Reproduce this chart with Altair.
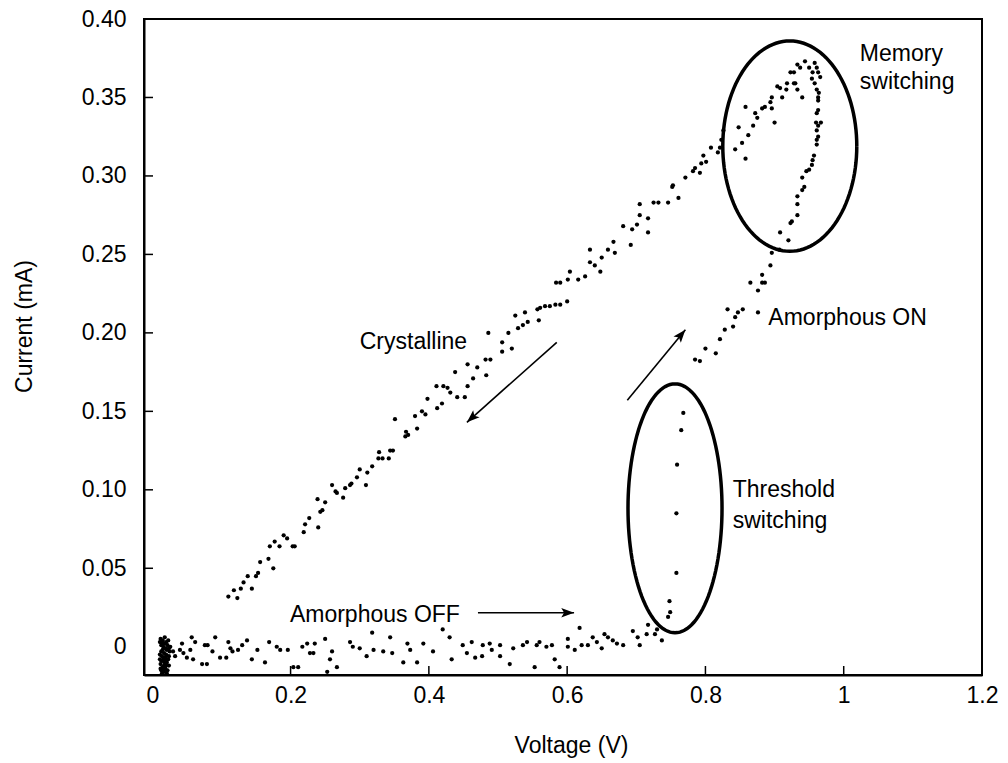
import numpy as np
import pandas as pd
import altair as alt

# ---- measured I-V sweep (voltage in V, current in mA) ----
# dense cluster at the start of the sweep
blob = [
    (0.012, 0.005), (0.015, 0.004), (0.018, 0.006), (0.020, 0.003), (0.022, 0.001),
    (0.016, 0.000), (0.019, -0.001), (0.013, -0.003), (0.021, -0.002), (0.017, -0.004),
    (0.014, -0.006), (0.020, -0.006), (0.023, -0.008), (0.016, -0.009), (0.018, -0.010),
    (0.012, -0.011), (0.020, -0.012), (0.015, -0.013), (0.019, -0.014), (0.022, -0.015),
    (0.017, -0.016), (0.014, -0.017), (0.018, 0.002), (0.020, -0.005), (0.016, -0.007),
    (0.025, -0.003), (0.013, 0.001), (0.011, 0.003), (0.014, 0.002), (0.023, 0.004),
    (0.024, -0.001), (0.011, -0.008), (0.013, -0.009), (0.021, -0.010), (0.024, -0.012),
    (0.012, -0.014), (0.017, -0.012), (0.013, -0.015), (0.021, -0.017), (0.024, -0.006),
    (0.011, -0.005), (0.019, -0.008), (0.015, -0.002), (0.026, 0.000), (0.016, -0.015),
]

# amorphous OFF state, low current
off_state = [
    (0.030, -0.003), (0.033, -0.006), (0.040, -0.002), (0.043, 0.002), (0.045, -0.004),
    (0.050, -0.007), (0.055, -0.002), (0.057, 0.006), (0.059, -0.008), (0.062, 0.003),
    (0.072, -0.011), (0.079, -0.011), (0.076, 0.001), (0.080, 0.001), (0.091, 0.006),
    (0.087, -0.003), (0.098, -0.007), (0.107, -0.007), (0.110, 0.003), (0.113, -0.001),
    (0.116, -0.003), (0.124, -0.002), (0.130, 0.001), (0.137, 0.004), (0.144, -0.008),
    (0.152, -0.002), (0.163, -0.010), (0.169, 0.003), (0.180, 0.000), (0.185, -0.002),
    (0.196, -0.002), (0.204, -0.013), (0.211, -0.013), (0.217, 0.000), (0.224, 0.002),
    (0.228, -0.004), (0.235, 0.002), (0.233, -0.004), (0.250, 0.005), (0.253, -0.016),
    (0.257, -0.008), (0.260, -0.003), (0.267, -0.013), (0.286, 0.003), (0.290, 0.000),
    (0.300, -0.001), (0.310, -0.006), (0.318, 0.009), (0.320, -0.002), (0.334, -0.003),
    (0.344, 0.006), (0.347, -0.004), (0.363, -0.010), (0.369, 0.002), (0.373, -0.002),
    (0.383, -0.010), (0.392, 0.002), (0.406, -0.003), (0.420, 0.011), (0.430, 0.006),
    (0.433, -0.008), (0.449, 0.001), (0.455, -0.004), (0.462, 0.003), (0.467, -0.007),
    (0.477, -0.006), (0.478, 0.001), (0.488, 0.002), (0.491, -0.002), (0.503, -0.006),
    (0.503, 0.001), (0.517, -0.011), (0.522, -0.001), (0.536, 0.001), (0.542, 0.003),
    (0.553, -0.013), (0.556, 0.001), (0.560, 0.003), (0.570, 0.000), (0.578, 0.001),
    (0.582, -0.008), (0.589, -0.013), (0.601, 0.005), (0.601, 0.000), (0.611, -0.002),
    (0.618, 0.012), (0.621, 0.001), (0.630, 0.001), (0.637, 0.006), (0.643, 0.003),
    (0.650, -0.001), (0.654, 0.008), (0.659, 0.006), (0.666, 0.004), (0.672, 0.002),
    (0.681, 0.001), (0.695, 0.010), (0.702, 0.006), (0.705, 0.001), (0.715, 0.008),
    (0.717, 0.014), (0.727, 0.008), (0.730, 0.011), (0.737, 0.004),
]

# threshold switching jump
threshold = [
    (0.746, 0.019), (0.749, 0.022), (0.748, 0.029), (0.758, 0.047), (0.758, 0.085),
    (0.759, 0.116), (0.765, 0.138), (0.768, 0.149),
]

# amorphous ON branch up to the memory-switching point
on_state = [
    (0.785, 0.183), (0.792, 0.182), (0.800, 0.190), (0.815, 0.187), (0.821, 0.196),
    (0.828, 0.202), (0.840, 0.204), (0.843, 0.210), (0.847, 0.213), (0.854, 0.215),
    (0.832, 0.215), (0.876, 0.213), (0.876, 0.227), (0.865, 0.232), (0.882, 0.232),
    (0.882, 0.237), (0.886, 0.232), (0.894, 0.243), (0.896, 0.251), (0.907, 0.253),
    (0.908, 0.264), (0.920, 0.259), (0.923, 0.270), (0.925, 0.271), (0.933, 0.275),
    (0.933, 0.282), (0.933, 0.287), (0.940, 0.291), (0.943, 0.293), (0.940, 0.299),
    (0.946, 0.303), (0.950, 0.304), (0.954, 0.307), (0.955, 0.310), (0.957, 0.313),
    (0.961, 0.320), (0.961, 0.323), (0.963, 0.325), (0.961, 0.329), (0.963, 0.332),
    (0.967, 0.334), (0.960, 0.334), (0.961, 0.340), (0.963, 0.342), (0.963, 0.348),
    (0.963, 0.350), (0.961, 0.355), (0.964, 0.353), (0.958, 0.359), (0.954, 0.362),
    (0.955, 0.366), (0.963, 0.366), (0.961, 0.369), (0.958, 0.372), (0.950, 0.369),
    (0.966, 0.363),
]

# crystalline branch, sweeping back down
crystalline = [
    (0.944, 0.373), (0.937, 0.369), (0.933, 0.371), (0.930, 0.359), (0.928, 0.366),
    (0.923, 0.366), (0.940, 0.350), (0.933, 0.355), (0.928, 0.359), (0.918, 0.359),
    (0.917, 0.355), (0.908, 0.356), (0.911, 0.350), (0.904, 0.357), (0.896, 0.350),
    (0.894, 0.347), (0.886, 0.344), (0.882, 0.343), (0.896, 0.343), (0.872, 0.340),
    (0.875, 0.337), (0.858, 0.344), (0.900, 0.334), (0.869, 0.332), (0.862, 0.326),
    (0.848, 0.331), (0.853, 0.321), (0.843, 0.317), (0.858, 0.311), (0.826, 0.329),
    (0.823, 0.323), (0.821, 0.318), (0.818, 0.315), (0.808, 0.318), (0.801, 0.309),
    (0.797, 0.313), (0.794, 0.308), (0.792, 0.302), (0.785, 0.305), (0.782, 0.303),
    (0.771, 0.299), (0.753, 0.294), (0.752, 0.293), (0.761, 0.286), (0.746, 0.283),
    (0.732, 0.283), (0.725, 0.283), (0.705, 0.282), (0.705, 0.275), (0.717, 0.273),
    (0.717, 0.264), (0.701, 0.269), (0.694, 0.266), (0.681, 0.268), (0.692, 0.256),
    (0.667, 0.258), (0.659, 0.253), (0.669, 0.251), (0.650, 0.248), (0.633, 0.253),
    (0.633, 0.245), (0.640, 0.243), (0.648, 0.239), (0.626, 0.236), (0.616, 0.234),
    (0.604, 0.239), (0.601, 0.234), (0.590, 0.232), (0.584, 0.232), (0.600, 0.220),
    (0.590, 0.218), (0.583, 0.218), (0.575, 0.217), (0.568, 0.217), (0.561, 0.216),
    (0.557, 0.215), (0.539, 0.213), (0.559, 0.208), (0.543, 0.207), (0.536, 0.205),
    (0.529, 0.203), (0.525, 0.211), (0.515, 0.200), (0.506, 0.188), (0.506, 0.194),
    (0.486, 0.200), (0.489, 0.183), (0.482, 0.183), (0.520, 0.190), (0.456, 0.180),
    (0.470, 0.178), (0.483, 0.173), (0.438, 0.175), (0.464, 0.171), (0.456, 0.166),
    (0.411, 0.166), (0.421, 0.166), (0.427, 0.165), (0.431, 0.162), (0.441, 0.159),
    (0.452, 0.159), (0.398, 0.158), (0.419, 0.155), (0.412, 0.152), (0.390, 0.150),
    (0.395, 0.148), (0.380, 0.147), (0.351, 0.145), (0.383, 0.139), (0.367, 0.137),
    (0.370, 0.135), (0.366, 0.134), (0.348, 0.125), (0.344, 0.125), (0.328, 0.124),
    (0.333, 0.120), (0.327, 0.120), (0.342, 0.120), (0.318, 0.115), (0.300, 0.113),
    (0.311, 0.111), (0.296, 0.108), (0.288, 0.104), (0.286, 0.103), (0.309, 0.103),
    (0.279, 0.101), (0.260, 0.103), (0.265, 0.099), (0.267, 0.098), (0.276, 0.095),
    (0.250, 0.092), (0.239, 0.094), (0.246, 0.087), (0.243, 0.086), (0.227, 0.082),
    (0.221, 0.078), (0.219, 0.073), (0.240, 0.076), (0.190, 0.071), (0.195, 0.069),
    (0.203, 0.064), (0.206, 0.064), (0.177, 0.067), (0.184, 0.064), (0.170, 0.064),
    (0.168, 0.056), (0.156, 0.054), (0.175, 0.050), (0.153, 0.047), (0.150, 0.045),
    (0.138, 0.045), (0.132, 0.041), (0.128, 0.037), (0.118, 0.036), (0.144, 0.037),
    (0.110, 0.032), (0.123, 0.031),
]

# axis ticks
x_ticks = [0, 0.2, 0.4, 0.6, 0.8, 1.0, 1.2]
y_ticks = [0, 0.05, 0.10, 0.15, 0.20, 0.25, 0.30, 0.35, 0.40]

# annotation labels: text, voltage, current
labels = [
    ("Crystalline", 0.300, 0.194),
    ("Amorphous ON", 0.891, 0.2096),
    ("Threshold", 0.8395, 0.1000),
    ("switching", 0.8395, 0.0803),
    ("Amorphous OFF", 0.199, 0.0204),
    ("Memory", 1.0233, 0.378),
    ("switching", 1.0233, 0.360),
]

# arrows: name, start (V, mA), tip (V, mA), heading in degrees
arrows = [
    ("crystalline", 0.585, 0.194, 0.455, 0.143, 228),
    ("on", 0.687, 0.157, 0.771, 0.202, 40),
    ("off", 0.471, 0.0217, 0.610, 0.0217, 90),
]

# ellipses around the switching regions: name, centre (V, mA), half-widths (V, mA)
ellipses = [
    ("memory", 0.922, 0.319, 0.0969, 0.0670),
    ("threshold", 0.756, 0.0882, 0.068, 0.0793),
]

# ---------------------------------------------------------------
W, H = 838, 656
FONT = "Liberation Sans"
X_DOMAIN = [-0.012, 1.2]
Y_DOMAIN = [-0.018, 0.40]

xs = alt.Scale(domain=X_DOMAIN, nice=False, zero=False)
ys = alt.Scale(domain=Y_DOMAIN, nice=False, zero=False)

points = pd.DataFrame(blob + off_state + threshold + on_state + crystalline,
                      columns=["voltage", "current"])

x_axis = alt.Axis(
    values=x_ticks, format="~g", ticks=False, grid=False,
    domainColor="black", domainWidth=2,
    labelFont=FONT, labelFontSize=23, labelColor="black", labelPadding=9,
    labelFlush=False, labelOverlap=False,
    title="Voltage (V)", titleFont=FONT, titleFontSize=23, titleFontWeight="normal",
    titleColor="black", titleX=427, titleY=70, titleBaseline="middle",
)
y_axis = alt.Axis(
    values=y_ticks, ticks=False, grid=False,
    labelExpr="datum.value == 0 ? '0' : format(datum.value, '.2f')",
    domainColor="black", domainWidth=2,
    labelFont=FONT, labelFontSize=23, labelColor="black", labelPadding=18,
    labelFlush=False, labelOverlap=False,
    title="Current (mA)", titleFont=FONT, titleFontSize=23, titleFontWeight="normal",
    titleColor="black", titleX=-120, titleY=307, titleBaseline="middle",
)

scatter = alt.Chart(points).mark_circle(size=18, color="black", opacity=1, clip=True).encode(
    x=alt.X("voltage:Q", scale=xs, axis=x_axis),
    y=alt.Y("current:Q", scale=ys, axis=y_axis),
)

# inward tick marks
xt = pd.DataFrame({"voltage": [0.2, 0.4, 0.6, 0.8, 1.0]})
x_tick_marks = alt.Chart(xt).mark_rule(color="black", strokeWidth=1.5).encode(
    x=alt.X("voltage:Q", scale=xs),
    y=alt.value(H), y2=alt.value(H - 9),
)
yt = pd.DataFrame({"current": [0.05, 0.10, 0.15, 0.20, 0.25, 0.30, 0.35]})
y_tick_marks = alt.Chart(yt).mark_rule(color="black", strokeWidth=1.5).encode(
    y=alt.Y("current:Q", scale=ys),
    x=alt.value(0), x2=alt.value(9),
)

# ellipse outlines
rows = []
t = np.linspace(0, 2 * np.pi, 121)
for name, cv, ci, rv, ri in ellipses:
    for k, a in enumerate(t):
        rows.append((name, k, cv + rv * np.cos(a), ci + ri * np.sin(a)))
ell_df = pd.DataFrame(rows, columns=["name", "k", "voltage", "current"])
ellipse_layer = alt.Chart(ell_df).mark_line(color="black", strokeWidth=3.5).encode(
    x=alt.X("voltage:Q", scale=xs),
    y=alt.Y("current:Q", scale=ys),
    order="k:Q",
    detail="name:N",
)

# arrows
shaft_rows, head_rows = [], []
for name, v0, i0, v1, i1, ang in arrows:
    shaft_rows.append((name, 0, v0, i0))
    shaft_rows.append((name, 1, v1, i1))
    head_rows.append((name, v1, i1, ang))
shaft_df = pd.DataFrame(shaft_rows, columns=["name", "k", "voltage", "current"])
head_df = pd.DataFrame(head_rows, columns=["name", "voltage", "current", "angle"])

shafts = alt.Chart(shaft_df).mark_line(color="black", strokeWidth=1.6).encode(
    x=alt.X("voltage:Q", scale=xs),
    y=alt.Y("current:Q", scale=ys),
    order="k:Q",
    detail="name:N",
)
heads = alt.Chart(head_df).mark_point(
    shape="M0,0 L-0.6,1.6 L0,1.25 L0.6,1.6 Z",
    filled=True, size=256, color="black", opacity=1, strokeWidth=0,
).encode(
    x=alt.X("voltage:Q", scale=xs),
    y=alt.Y("current:Q", scale=ys),
    angle=alt.Angle("angle:Q", scale=None),
)

# text annotations
lab_df = pd.DataFrame(labels, columns=["label", "voltage", "current"])
texts = alt.Chart(lab_df).mark_text(
    align="left", baseline="middle", font=FONT, fontSize=23, color="black",
).encode(
    x=alt.X("voltage:Q", scale=xs),
    y=alt.Y("current:Q", scale=ys),
    text="label:N",
)

chart = alt.layer(
    scatter, x_tick_marks, y_tick_marks, ellipse_layer, shafts, heads, texts
).properties(
    width=W, height=H,
    autosize=alt.AutoSizeParams(type="none"),
    padding={"left": 144, "top": 19, "right": 26, "bottom": 88},
    background="white",
).configure_view(stroke="black", strokeWidth=2)

chart.save("out.html", embed_options={"renderer": "svg", "actions": False})
